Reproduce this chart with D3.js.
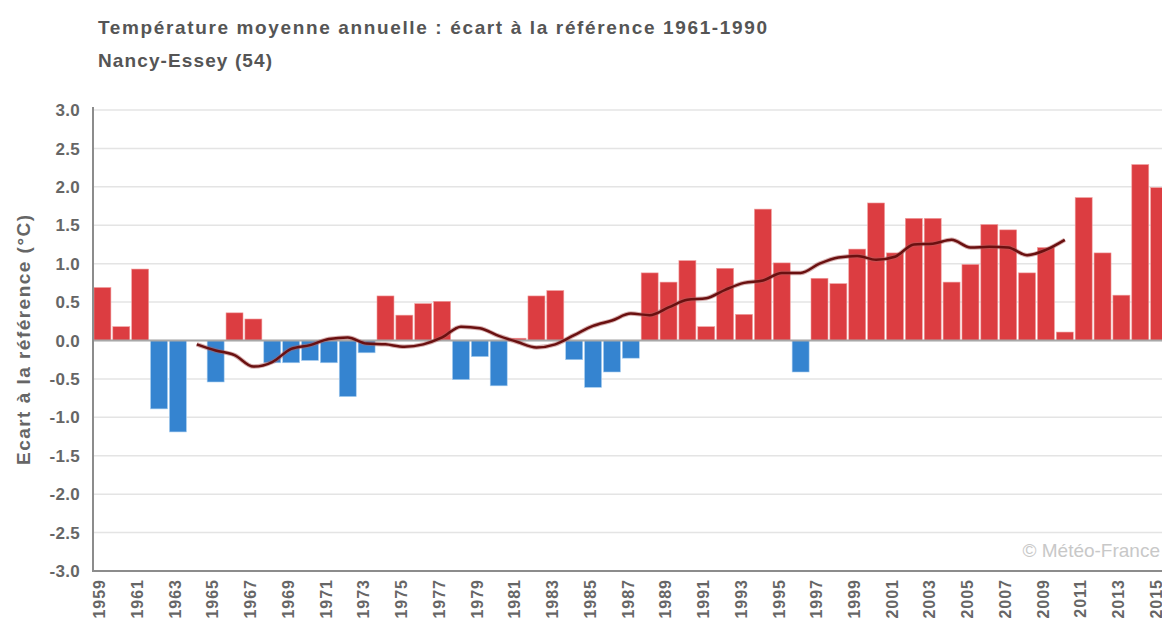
<!DOCTYPE html>
<html><head><meta charset="utf-8">
<script src="https://cdn.jsdelivr.net/npm/d3@7"></script>
<style>
html,body{margin:0;padding:0;background:#fff;overflow:hidden}
svg{display:block;font-family:"Liberation Sans",Arial,sans-serif}
</style></head><body>
<svg id="c" width="1162" height="624"></svg>
<script>
const years = d3.range(1959, 2016);
const anomalies = [0.69,0.18,0.93,-0.89,-1.19,0.0,-0.54,0.36,0.28,-0.29,
  -0.29,-0.26,-0.29,-0.73,-0.16,0.58,0.33,0.48,0.51,-0.51,
  -0.21,-0.59,0.03,0.58,0.65,-0.25,-0.61,-0.41,-0.23,0.88,
  0.76,1.04,0.18,0.94,0.34,1.71,1.01,-0.41,0.81,0.74,
  1.19,1.79,1.14,1.59,1.59,0.76,0.99,1.51,1.44,0.88,
  1.21,0.11,1.86,1.14,0.59,2.29,1.99];
const trendYears = d3.range(1964, 2011);
const trendValues = [-0.05,-0.13,-0.19,-0.34,-0.28,-0.11,-0.06,0.02,0.04,-0.04,
  -0.05,-0.08,-0.05,0.04,0.18,0.16,0.06,-0.02,-0.09,-0.05,
  0.07,0.19,0.26,0.35,0.33,0.43,0.53,0.55,0.66,0.75,
  0.78,0.88,0.88,1.00,1.08,1.10,1.05,1.09,1.25,1.26,
  1.31,1.21,1.22,1.21,1.11,1.18,1.31];
const yTicks = [3.0,2.5,2.0,1.5,1.0,0.5,0.0,-0.5,-1.0,-1.5,-2.0,-2.5,-3.0];
const xTickYears = years.filter(y => (y - 1959) % 2 === 0);
const titleText = "Température moyenne annuelle : écart à la référence 1961-1990";
const subtitleText = "Nancy-Essey (54)";
const yLabel = "Ecart à la référence (°C)";
const credit = "© Météo-France";

(function(){
const svg = d3.select("#c");
const left = 93, plotTop = 110, plotBottom = 571;
const x = d3.scaleBand().domain(years).range([left, left + years.length * 18.87]).paddingInner(0.1).paddingOuter(0.05);
const y = d3.scaleLinear().domain([-3, 3]).range([plotBottom, plotTop]);

// gridlines
svg.append("g").selectAll("line").data(yTicks).join("line")
  .attr("x1", left).attr("x2", 1162)
  .attr("y1", d => y(d)).attr("y2", d => y(d))
  .attr("stroke", "#e4e4e4").attr("stroke-width", 1.5);

// credit
svg.append("text").attr("x", 1160).attr("y", 557).attr("text-anchor", "end")
  .attr("font-size", 19).attr("fill", "#c8c8c8").text(credit);

// bars
svg.append("g").selectAll("rect").data(years).join("rect")
  .attr("x", d => x(d))
  .attr("width", x.bandwidth())
  .attr("y", (d, i) => y(Math.max(0, anomalies[i])))
  .attr("height", (d, i) => Math.abs(y(anomalies[i]) - y(0)))
  .attr("fill", (d, i) => anomalies[i] >= 0 ? "#dc3d41" : "#3584d0")
  .attr("stroke", (d, i) => anomalies[i] >= 0 ? "#f0a0a0" : "#a8cdef")
  .attr("stroke-width", 0.6);

// zero line
svg.append("line").attr("x1", left).attr("x2", 1162).attr("y1", y(0)).attr("y2", y(0))
  .attr("stroke", "#a8a8a8").attr("stroke-width", 2);

// trend line
const line = d3.line().x((d, i) => x(trendYears[i]) + x.bandwidth() / 2).y(d => y(d)).curve(d3.curveMonotoneX);
svg.append("path").datum(trendValues).attr("d", line).attr("fill", "none")
  .attr("stroke", "#b06060").attr("stroke-opacity", 0.5).attr("stroke-width", 4.5);
svg.append("path").datum(trendValues).attr("d", line).attr("fill", "none")
  .attr("stroke", "#6a1010").attr("stroke-width", 2.5);

// axes lines
svg.append("line").attr("x1", left).attr("x2", left).attr("y1", 107).attr("y2", plotBottom + 1)
  .attr("stroke", "#8c8c8c").attr("stroke-width", 2);
svg.append("line").attr("x1", left).attr("x2", 1162).attr("y1", plotBottom).attr("y2", plotBottom)
  .attr("stroke", "#8c8c8c").attr("stroke-width", 2);

// y tick labels
svg.append("g").selectAll("text").data(yTicks).join("text")
  .attr("x", 80).attr("y", d => y(d)).attr("dy", "0.36em").attr("text-anchor", "end")
  .attr("font-size", 17).attr("font-weight", "bold").attr("fill", "#666")
  .attr("letter-spacing", 0.3)
  .text(d => d.toFixed(1));

// x tick labels
svg.append("g").selectAll("text").data(xTickYears).join("text")
  .attr("transform", d => `translate(${x(d) + x.bandwidth() / 2 - 3},579) rotate(-90)`)
  .attr("dy", "0.36em").attr("text-anchor", "end")
  .attr("font-size", 16).attr("font-weight", "bold").attr("fill", "#666")
  .attr("letter-spacing", 1)
  .text(d => d);

// y label
svg.append("text").attr("transform", "translate(30,340) rotate(-90)")
  .attr("text-anchor", "middle").attr("font-size", 19).attr("font-weight", "bold").attr("fill", "#666")
  .attr("textLength", 250).attr("lengthAdjust", "spacing")
  .text(yLabel);

// titles
svg.append("text").attr("x", 98).attr("y", 34).attr("font-size", 19).attr("font-weight", "bold")
  .attr("fill", "#555").attr("textLength", 669).attr("lengthAdjust", "spacing").text(titleText);
svg.append("text").attr("x", 98).attr("y", 67).attr("font-size", 19).attr("font-weight", "bold")
  .attr("fill", "#555").attr("textLength", 174).attr("lengthAdjust", "spacing").text(subtitleText);
})();
</script>
</body></html>
